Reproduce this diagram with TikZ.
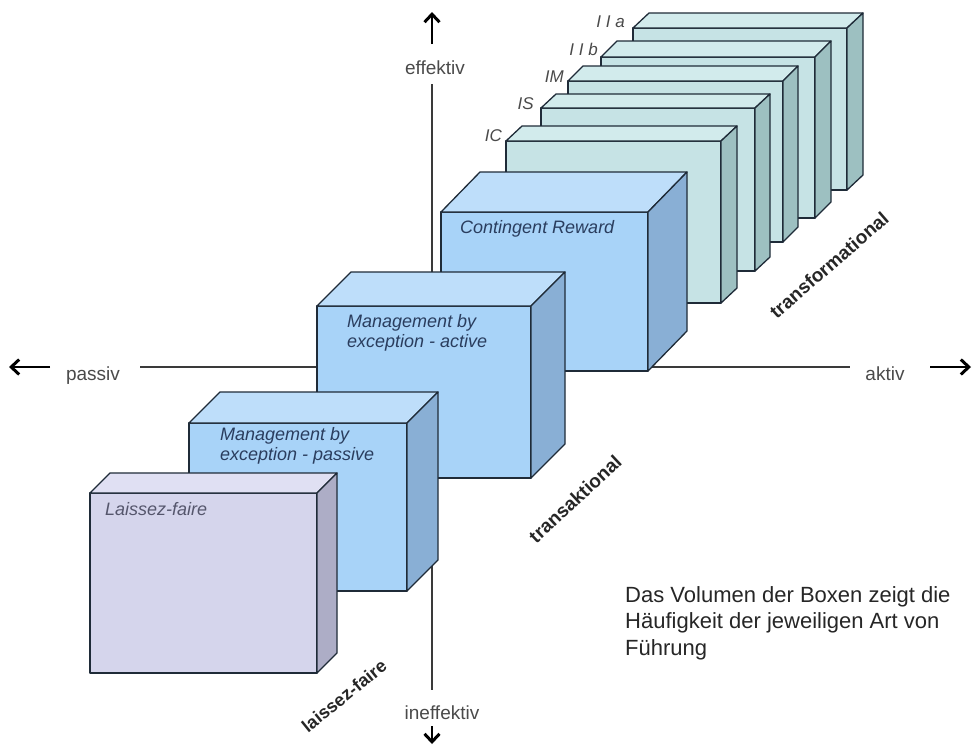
\documentclass[tikz,border=0pt]{standalone}
\usepackage{fontspec}
\setmainfont{Liberation Sans}
\usetikzlibrary{arrows.meta}
\definecolor{tffront}{HTML}{C6E3E5}
\definecolor{tftop}{HTML}{D2EBEC}
\definecolor{tfside}{HTML}{9DC0C1}
\definecolor{blfront}{HTML}{A8D3F8}
\definecolor{bltop}{HTML}{BEDEFA}
\definecolor{blside}{HTML}{89AFD5}
\definecolor{lffront}{HTML}{D5D5EC}
\definecolor{lftop}{HTML}{E0E0F3}
\definecolor{lfside}{HTML}{ADADC6}
\definecolor{edgecol}{HTML}{1F2B38}
\definecolor{boxtext}{HTML}{2A3D5E}
\definecolor{lftext}{HTML}{55566C}
\definecolor{axisgray}{HTML}{3A3A3A}
\definecolor{labelgray}{HTML}{4A4A4A}
% #1,#2 front top-left; #3,#4 front bottom-right; #5,#6 depth offset; #7 colour prefix
\newcommand{\cuboid}[7]{%
  \filldraw[boxline, fill=#7front] (#1,#2) rectangle (#3,#4);
  \filldraw[boxline, fill=#7top] (#1,#2) -- ++(#5,#6) -- ++({#3-#1},0) -- ++({-(#5)},{-(#6)}) -- cycle;
  \filldraw[boxline, fill=#7side] (#3,#2) -- ++(#5,#6) -- ++(0,{#4-#2}) -- ++({-(#5)},{-(#6)}) -- cycle;
}
\begin{document}
\begin{tikzpicture}[x=1pt,y=-1pt,
  boxline/.style={draw=edgecol, line width=1.3pt, line join=round},
  axisline/.style={draw=axisgray, line width=1.4pt},
  axisarrow/.style={draw=black, line width=2.2pt, -{Straight Barb[length=8pt,width=15pt,line width=3pt]}},
  axislabel/.style={text=labelgray, font=\fontsize{19}{23}\selectfont, inner sep=0pt},
  boxlabel/.style={text=boxtext, font=\fontsize{18}{20.5}\selectfont\itshape, inner sep=0pt, align=left},
  ilabel/.style={text=labelgray, font=\fontsize{17}{20}\selectfont\itshape, inner sep=0pt},
  grouplabel/.style={text=black!85, font=\fontsize{19}{22}\selectfont\bfseries, inner sep=0pt},
]
\useasboundingbox (0,0) rectangle (973,753);

% axes
\coordinate (vtop) at (432,12);
\coordinate (vtopS) at (432,44);
\coordinate (vup) at (432,84);
\coordinate (vdown) at (432,690);
\coordinate (vbotS) at (432,726);
\coordinate (vbot) at (432,744);
\coordinate (hleft) at (9,367);
\coordinate (hleftS) at (50,367);
\coordinate (hl) at (140,367);
\coordinate (hr) at (850,367);
\coordinate (hrightS) at (930,367);
\coordinate (hright) at (971,367);
\draw[axisline] (vup) -- (vdown);
\draw[axisline] (hl) -- (hr);
\draw[axisarrow] (vtopS) -- (vtop);
\draw[axisarrow] (vbotS) -- (vbot);
\draw[axisarrow] (hleftS) -- (hleft);
\draw[axisarrow] (hrightS) -- (hright);
\node[axislabel, anchor=base] (eff) at (435,74) {effektiv};
\node[axislabel, anchor=base] (ineff) at (442,719) {ineffektiv};
\node[axislabel, anchor=base] (pas) at (93,380) {passiv};
\node[axislabel, anchor=base] (akt) at (885,380) {aktiv};

% transformational boxes
\cuboid{633}{28}{847}{190}{16}{-15}{tf}
\cuboid{601}{57}{815}{218}{16}{-16}{tf}
\cuboid{568}{81}{783}{242}{15}{-15}{tf}
\cuboid{541}{108}{755}{271}{15}{-14}{tf}
\cuboid{506}{141}{721}{303}{16}{-15}{tf}
\node[ilabel, anchor=east] (iia) at (625,22) {I I a};
\node[ilabel, anchor=east] (iib) at (598,49) {I I b};
\node[ilabel, anchor=east] (im) at (564,77) {IM};
\node[ilabel, anchor=east] (is) at (534,104) {IS};
\node[ilabel, anchor=east] (ic) at (502,136) {IC};

% transactional boxes
\cuboid{441}{212}{648}{371}{39}{-40}{bl}
\cuboid{317}{306}{531}{478}{34}{-34}{bl}
\cuboid{189}{423}{407}{591}{31}{-31}{bl}
% laissez-faire box
\cuboid{90}{493}{317}{673}{20}{-20}{lf}

\node[boxlabel, anchor=base west] (cr) at (460,233) {Contingent Reward};
\node[boxlabel, anchor=north west] (mbea) at (347,314) {Management by\\exception - active};
\node[boxlabel, anchor=north west] (mbep) at (220,427) {Management by\\exception - passive};
\node[boxlabel, anchor=base west, text=lftext] (lf) at (105,515) {Laissez-faire};

% group labels
\node[grouplabel, rotate=41] (gtf) at (829,265) {transformational};
\node[grouplabel, rotate=43] (gta) at (575,499) {transaktional};
\node[grouplabel, rotate=39, font=\fontsize{18}{21}\selectfont\bfseries] (glf) at (344,696) {laissez-faire};

% description
\node[anchor=north west, inner sep=0pt, align=left, text=black!85,
      font=\fontsize{22}{26.5}\selectfont] (desc) at (625,586)
  {Das Volumen der Boxen zeigt die\\Häufigkeit der jeweiligen Art von\\Führung};
\end{tikzpicture}
\end{document}
